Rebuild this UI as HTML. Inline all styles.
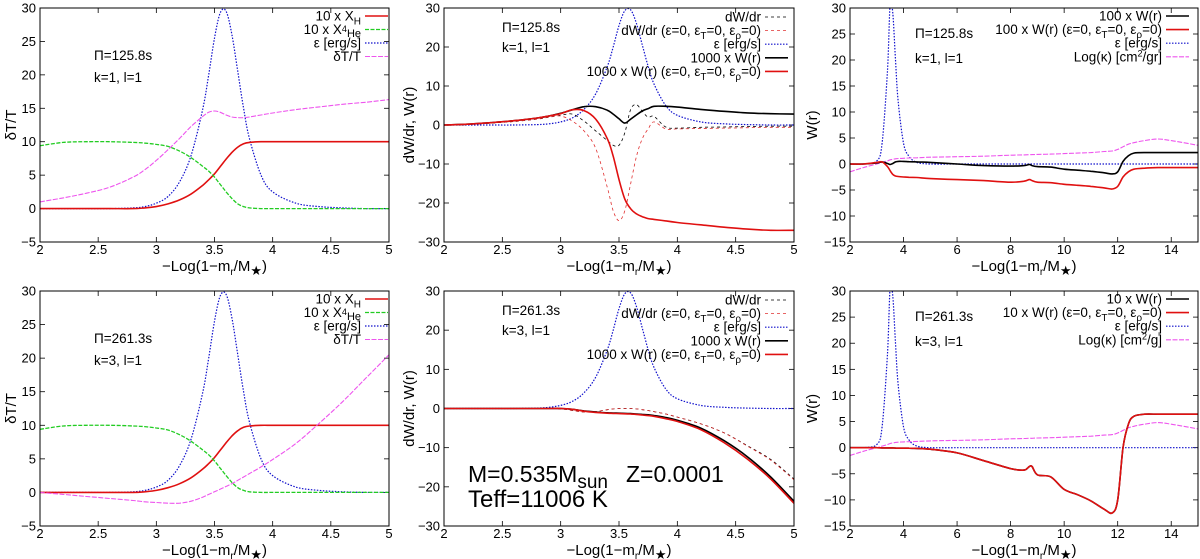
<!DOCTYPE html>
<html><head><meta charset="utf-8"><style>
body{margin:0;background:#fff;}
svg{display:block;font-family:"Liberation Sans",sans-serif;}
</style></head><body>
<svg id="fig" width="1200" height="559" viewBox="0 0 1200 559"></svg>
<script>
// ---------- data ----------
const xA = [2,2.2,2.4,2.6,2.8,2.9,3.0,3.1,3.2,3.3,3.4,3.45,3.5,3.55,3.6,3.65,3.7,3.75,3.8,3.9,4.0,4.2,4.4,4.6,4.8,5.0];
const epsA = [0,0,0,0,0.1,0.3,0.8,1.8,4,8,15,20,25.5,29.3,29.5,26,20.5,15,10.5,5,2.5,0.8,0.3,0.1,0,0];
const xH = [0,0,0,0,0,0.1,0.3,0.7,1.3,2.2,3.5,4.3,5.2,6.3,7.4,8.4,9.2,9.7,9.9,10,10,10,10,10,10,10];
const xHe = [9.4,9.9,10,10,9.9,9.8,9.6,9.3,8.6,7.6,6.3,5.6,4.7,3.6,2.5,1.5,0.7,0.3,0.1,0,0,0,0,0,0,0];
const dTT1 = [1,1.6,2.3,3.2,4.7,5.8,7.2,8.8,10.5,12.3,13.8,14.4,14.6,14.4,14.0,13.7,13.6,13.6,13.7,14.0,14.3,14.8,15.2,15.6,15.9,16.3];
const dTT3 = [0,-0.3,-0.6,-0.9,-1.2,-1.4,-1.5,-1.6,-1.6,-1.3,-0.7,-0.3,0.1,0.5,0.9,1.3,1.8,2.3,2.8,3.8,4.9,7.3,10.3,13.5,17.0,20.5];
const W1 = [0,0.2,0.6,1.1,1.8,2.3,3.0,3.9,4.7,4.7,3.8,2.8,1.6,0.5,1.5,2.6,3.6,4.2,4.8,4.8,4.6,4.0,3.5,3.1,2.9,2.8];
const W1n = [0,0.2,0.6,1.1,1.8,2.3,2.9,3.9,3.7,1.5,-3.5,-8,-14,-19,-21.5,-22.8,-23.5,-24,-24.2,-24.6,-25.0,-25.6,-26.2,-26.7,-27,-27];
const dW1 = [0,0.2,0.5,0.9,1.5,2,2.5,2.8,1.0,-1.5,-4,-5.2,-5.2,-2,4,5.2,3.5,2,2.2,-0.5,-0.8,-0.6,-0.5,-0.4,-0.3,-0.3];
const dW1n = [0,0.2,0.5,0.9,1.5,2,2.3,1.0,-1.5,-6,-16,-22,-24.5,-22,-15,-8,-3.5,-1,0.8,-1,-1,-0.9,-0.8,-0.7,-0.6,-0.6];
const W3 = [0,0,0,0,0,0,0,-0.2,-0.6,-0.9,-1.1,-1.15,-1.2,-1.25,-1.3,-1.4,-1.5,-1.6,-1.8,-2.3,-3.0,-5,-8.2,-12.3,-17.5,-23.7];
const W3n = [0,0,0,0,0,0,0,-0.2,-0.7,-1.0,-1.2,-1.25,-1.3,-1.35,-1.4,-1.5,-1.65,-1.8,-2.0,-2.6,-3.3,-5.4,-8.7,-12.9,-18,-24.2];
const dW3 = [0,0,0,0,0,0,-0.1,-0.5,-0.9,-0.8,-0.3,-0.1,0,0,0,-0.1,-0.3,-0.5,-0.8,-1.4,-2.2,-3.9,-6.2,-9.5,-13,-18];
const dW3n = [0,0,0,0,0,0,-0.1,-0.5,-0.9,-0.8,-0.3,-0.1,0,0,0,-0.1,-0.3,-0.5,-0.8,-1.4,-2.2,-3.9,-6.2,-9.6,-13.2,-18.2];
const xR = [2,2.5,3,3.2,3.4,3.5,3.6,3.7,3.8,4,4.2,4.5,5,6,7,8,8.5,8.7,8.8,9,9.5,10,10.5,11,11.5,11.8,12,12.2,12.4,12.6,13,13.5,14,15];
const epsR = [0,0,0.6,4,18,31,29,20,12,4,1.5,0.3,0,0,0,0,0,0,0,0,0,0,0,0,0,0,0,0,0,0,0,0,0,0];
const kapR = [-1.5,-0.7,0,0.3,0.6,0.8,0.9,1.0,1.05,1.1,1.15,1.2,1.3,1.4,1.5,1.7,1.75,1.8,1.8,1.85,1.9,2.0,2.1,2.2,2.4,2.5,2.8,3.3,3.8,4.1,4.5,4.8,4.5,3.6];
const WR1 = [0,0,0.2,0.4,0.1,-0.1,0.1,0.4,0.5,0.5,0.45,0.4,0.3,0,-0.3,-0.4,-0.3,-0.1,-0.3,-0.5,-0.6,-1.0,-1.2,-1.4,-1.7,-1.9,-1.5,0.5,1.6,2.1,2.2,2.2,2.2,2.2];
const WR1n = [0,0,0.3,0.4,-0.5,-1.3,-2.0,-2.3,-2.4,-2.5,-2.55,-2.6,-2.8,-3.0,-3.2,-3.5,-3.3,-3.0,-3.2,-3.5,-3.6,-3.9,-4.1,-4.3,-4.6,-4.8,-4.3,-2.5,-1.5,-1.0,-0.8,-0.7,-0.7,-0.7];
const WR3 = [0,0,0,-0.05,-0.05,-0.05,-0.05,-0.08,-0.1,-0.1,-0.1,-0.15,-0.3,-1,-2.5,-4,-4.3,-3.6,-3.6,-5.2,-5.6,-8,-9,-10.2,-11.8,-12.5,-10,0,4.5,6,6.4,6.4,6.4,6.4];
const ticksX1 = [2,2.5,3,3.5,4,4.5,5];
const ticksXR = [2,4,6,8,10,12,14];
const ticksYL = [-5,0,5,10,15,20,25,30];
const ticksYM = [-30,-20,-10,0,10,20,30];
const ticksYR = [-15,-10,-5,0,5,10,15,20,25,30];

// ---------- drawing ----------
const NS = "http://www.w3.org/2000/svg";
const svg = document.getElementById('fig');
function mk(tag, attrs, parent){ const e=document.createElementNS(NS,tag); for(const k in attrs) e.setAttribute(k,attrs[k]); (parent||svg).appendChild(e); return e; }
function smooth(pts){
  let d = "M"+pts[0][0].toFixed(1)+","+pts[0][1].toFixed(1);
  for(let i=0;i<pts.length-1;i++){
    const p0=pts[Math.max(0,i-1)],p1=pts[i],p2=pts[i+1],p3=pts[Math.min(pts.length-1,i+2)];
    const c1=[p1[0]+(p2[0]-p0[0])/6,p1[1]+(p2[1]-p0[1])/6];
    const c2=[p2[0]-(p3[0]-p1[0])/6,p2[1]-(p3[1]-p1[1])/6];
    d+=" C"+c1[0].toFixed(1)+","+c1[1].toFixed(1)+" "+c2[0].toFixed(1)+","+c2[1].toFixed(1)+" "+p2[0].toFixed(1)+","+p2[1].toFixed(1);
  }
  return d;
}
const STY = {
  red:{stroke:"#e01010","stroke-width":1.6},
  green:{stroke:"#22cc22","stroke-width":1.3,"stroke-dasharray":"4,1.5"},
  blue:{stroke:"#1010cc","stroke-width":1.2,"stroke-dasharray":"1.5,1.5"},
  pink:{stroke:"#ee55ee","stroke-width":1.1,"stroke-dasharray":"5,1.5"},
  black:{stroke:"#000","stroke-width":1.6},
  dblack:{stroke:"#000","stroke-width":0.8,"stroke-dasharray":"3,3"},
  dred:{stroke:"#e03030","stroke-width":0.8,"stroke-dasharray":"3,3"}
};

function panel(p){
  const g = mk('g',{});
  
  
  const X = v => p.x0 + (v-p.xmin)/(p.xmax-p.xmin)*(p.x1-p.x0);
  const Y = v => p.y1 - (v-p.ymin)/(p.ymax-p.ymin)*(p.y1-p.y0);
  const cid = 'clip-'+p.name;
  const cp = mk('clipPath',{id:cid},g); mk('rect',{x:p.x0,y:p.y0,width:p.x1-p.x0,height:p.y1-p.y0},cp);
  p.xt.forEach(t=>{
    const x=X(t);
    mk('line',{x1:x,y1:p.y1,x2:x,y2:p.y1-5,stroke:"#000","stroke-width":0.8},g);
    mk('line',{x1:x,y1:p.y0,x2:x,y2:p.y0+5,stroke:"#000","stroke-width":0.8},g);
    const tx=mk('text',{x:x,y:p.y1+12,"text-anchor":"middle","font-size":13},g); tx.textContent=t;
    
    
  });
  p.yt.forEach(t=>{
    const y=Y(t);
    mk('line',{x1:p.x0,y1:y,x2:p.x0+5,y2:y,stroke:"#000","stroke-width":0.8},g);
    mk('line',{x1:p.x1,y1:y,x2:p.x1-5,y2:y,stroke:"#000","stroke-width":0.8},g);
    const ty=mk('text',{x:p.x0-4,y:y+4.5,"text-anchor":"end","font-size":13},g); ty.textContent=(t<0?"\u2212"+(-t):t);
    
    
  });
  const gc = mk('g',{"clip-path":"url(#"+cid+")"},g);
  p.series.forEach(s=>{
    const pts = s.y.map((v,i)=>[X(s.x[i]),Y(v)]);
    const a = Object.assign({d:smooth(pts),fill:"none"},STY[s.st]);
    const path = mk('path',a,gc);
    
    
  });
  mk('rect',{x:p.x0,y:p.y0,width:p.x1-p.x0,height:p.y1-p.y0,fill:"none",stroke:"#000","stroke-width":1},g);
  const xl = mk('text',{x:(p.x0+p.x1)/2,y:p.y1+29,"text-anchor":"middle","font-size":15},g);
  xl.innerHTML = '\u2212Log(1\u2212m<tspan font-size="10" dy="4">r</tspan><tspan dy="-4">/M</tspan><tspan font-size="13" dy="4">\u2605</tspan><tspan dy="-4">)</tspan>';
  
  
  const yl = mk('text',{x:0,y:0,"text-anchor":"middle","font-size":15,transform:"translate("+p.ylx+","+((p.y0+p.y1)/2)+") rotate(-90)"},g);
  yl.textContent = p.ylabel;
  
  
  p.legend.forEach((l,i)=>{
    const y = p.y0 + p.legY + i*p.legDy;
    const t = mk('text',{x:p.legX,y:y+4.5,"text-anchor":"end","font-size":13.5},g);
    t.innerHTML = l.t;
    
    
    mk('line',Object.assign({x1:p.legX+4,y1:y,x2:p.legX+27,y2:y},STY[l.st]),g);
  });
  p.notes.forEach(n=>{
    const t = mk('text',{x:n.x,y:n.y,"font-size":n.fs||13.5},g);
    t.innerHTML = n.t;
    
    
  });
}

const epsNull = '(\u03b5=0, \u03b5<tspan font-size="10" dy="4">T</tspan><tspan dy="-4">=0, \u03b5</tspan><tspan font-size="10" dy="4">\u03c1</tspan><tspan dy="-4">=0)</tspan>';
const legL = [
  {t:'10 x X<tspan font-size="10" dy="4">H</tspan>',st:'red'},
  {t:'10 x X<tspan font-size="9" dy="-2">4</tspan><tspan font-size="11" dy="5">He</tspan>',st:'green'},
  {t:'\u03b5 [erg/s]',st:'blue'},
  {t:'\u03b4T/T',st:'pink'}];
const legM = [
  {t:'dW/dr',st:'dblack'},
  {t:'dW/dr '+epsNull,st:'dred'},
  {t:'\u03b5 [erg/s]',st:'blue'},
  {t:'1000 x W(r)',st:'black'},
  {t:'1000 x W(r) '+epsNull,st:'red'}];

const rows = [{y0:8,y1:242,per:'125.8',k:'1',f:'100',kap:'Log(\u03ba) [cm<tspan font-size="9" dy="-5">2</tspan><tspan dy="5">/gr]</tspan>'},
              {y0:291,y1:526,per:'261.3',k:'3',f:'10',kap:'Log(\u03ba) [cm<tspan font-size="9" dy="-5">2</tspan><tspan dy="5">/g]</tspan>'}];
rows.forEach((r,ri)=>{
  panel({name:'panel-dTT-'+(ri+1),x0:40,x1:389,y0:r.y0,y1:r.y1,xmin:2,xmax:5,ymin:-5,ymax:30,xt:ticksX1,yt:ticksYL,ylx:16,ylabel:'\u03b4T/T',
    legX:361,legY:8,legDy:13.5,legend:legL,
    series:[{x:xA,y:epsA,st:'blue',name:'epsilon-line'},{x:xA,y:xH,st:'red',name:'xh-line'},{x:xA,y:xHe,st:'green',name:'xhe-line'},{x:xA,y:ri?dTT3:dTT1,st:'pink',name:'dtt-line'}],
    notes:[{x:94,y:r.y0+52,t:'\u03a0='+r.per+'s',name:'period-label'},{x:94,y:r.y0+74,t:'k='+r.k+', l=1',name:'mode-label'}]});
  panel({name:'panel-dW-'+(ri+1),x0:444,x1:794,y0:r.y0,y1:r.y1,xmin:2,xmax:5,ymin:-30,ymax:30,xt:ticksX1,yt:ticksYM,ylx:414,ylabel:'dW/dr, W(r)',
    legX:761,legY:9,legDy:13.6,legend:legM,
    series:[{x:xA,y:epsA,st:'blue',name:'epsilon-line'},{x:xA,y:ri?dW3:dW1,st:'dblack',name:'dwdr-line'},{x:xA,y:ri?dW3n:dW1n,st:'dred',name:'dwdr-null-line'},{x:xA,y:ri?W3:W1,st:'black',name:'work-line'},{x:xA,y:ri?W3n:W1n,st:'red',name:'work-null-line'}],
    notes:[{x:502,y:r.y0+24,t:'\u03a0='+r.per+'s',name:'period-label'},{x:502,y:r.y0+44,t:'k='+r.k+', l=1',name:'mode-label'}]});
  panel({name:'panel-W-'+(ri+1),x0:850,x1:1198,y0:r.y0,y1:r.y1,xmin:2,xmax:15,ymin:-15,ymax:30,xt:ticksXR,yt:ticksYR,ylx:817,ylabel:'W(r)',
    legX:1162,legY:8,legDy:13.6,legend:[{t:r.f+' x W(r)',st:'black'},{t:r.f+' x W(r) '+epsNull,st:'red'},{t:'\u03b5 [erg/s]',st:'blue'},{t:r.kap,st:'pink'}],
    series:[{x:xR,y:epsR,st:'blue',name:'epsilon-line'},{x:xR,y:kapR,st:'pink',name:'opacity-line'},{x:xR,y:ri?WR3:WR1,st:'black',name:'work-line'},{x:xR,y:ri?WR3:WR1n,st:'red',name:'work-null-line'}],
    notes:[{x:915,y:r.y0+30,t:'\u03a0='+r.per+'s',name:'period-label'},{x:915,y:r.y0+55,t:'k='+r.k+', l=1',name:'mode-label'}]});
});
const m1 = mk('text',{x:468,y:482,"font-size":23});
m1.innerHTML='M=0.535M<tspan font-size="19" dy="6">sun</tspan><tspan dy="-6" x="626">Z=0.0001</tspan>';


const m2 = mk('text',{x:468,y:507,"font-size":24});
m2.textContent='Teff=11006 K';


</script>
</body></html>
